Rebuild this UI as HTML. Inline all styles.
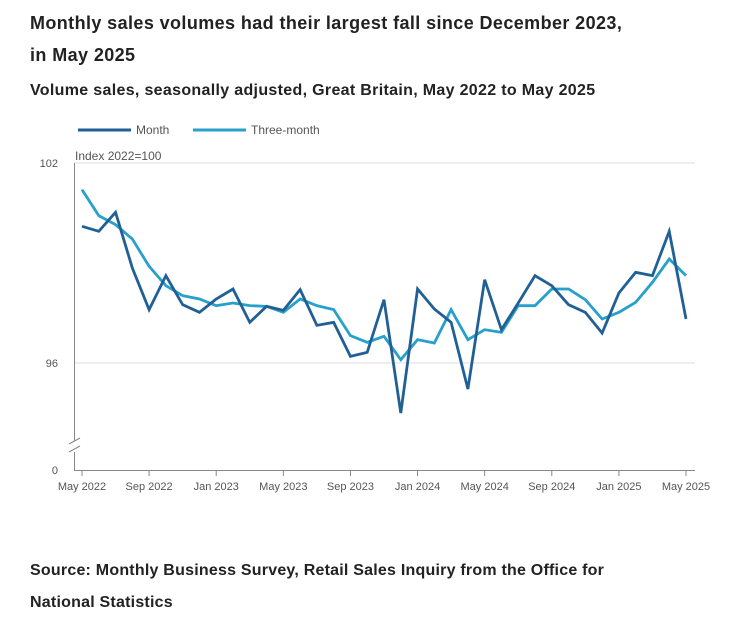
<!DOCTYPE html>
<html><head><meta charset="utf-8"><style>
body{margin:0;background:#fff;font-family:"Liberation Sans",sans-serif;width:749px;height:623px;overflow:hidden;position:relative}
.t{position:absolute;left:30px;color:#222;font-weight:bold}
</style></head><body>
<div class="t" style="top:7px;font-size:18px;line-height:32px;width:680px;letter-spacing:0.4px">Monthly sales volumes had their largest fall since December 2023,<br>in May 2025</div>
<div class="t" style="top:82px;font-size:16px;letter-spacing:0.32px">Volume sales, seasonally adjusted, Great Britain, May 2022 to May 2025</div>
<div class="t" style="top:555px;font-size:16px;line-height:32px;width:680px;letter-spacing:0.22px">Source: Monthly Business Survey, Retail Sales Inquiry from the Office for<br>National Statistics</div>
<svg id="c" width="749" height="623" style="position:absolute;left:0;top:0"></svg>
<script>
const months=["May 2022","Sep 2022","Jan 2023","May 2023","Sep 2023","Jan 2024","May 2024","Sep 2024","Jan 2025","May 2025"];
const monthVals=[100.1,99.95,100.52,98.85,97.6,98.62,97.75,97.52,97.92,98.22,97.22,97.7,97.58,98.2,97.13,97.22,96.2,96.32,97.9,94.5,98.22,97.62,97.22,95.22,98.5,97,97.8,98.62,98.32,97.75,97.52,96.9,98.1,98.72,98.62,99.95,97.32];
const threeVals=[101.2,100.42,100.15,99.72,98.9,98.32,98.02,97.92,97.72,97.8,97.72,97.7,97.52,97.92,97.72,97.6,96.82,96.62,96.8,96.1,96.7,96.6,97.6,96.7,97,96.92,97.72,97.72,98.22,98.22,97.9,97.32,97.52,97.82,98.42,99.12,98.62];
const yTicks=[96,102];
const NS="http://www.w3.org/2000/svg",s=document.getElementById('c');
const X=i=>82+i*(604/36), Y=v=>163+(102-v)*(200/6);
function el(t,a,p){const e=document.createElementNS(NS,t);for(const k in a)e.setAttribute(k,a[k]);(p||s).appendChild(e);return e;}
yTicks.forEach(v=>{
const g=el('line',{x1:74,x2:695,y1:Y(v),y2:Y(v),stroke:'#ddd'});


const t=el('text',{x:58,y:Y(v)+4,'font-size':11,fill:'#555','text-anchor':'end'});t.textContent=v;


});
const z=el('text',{x:58,y:474,'font-size':11,fill:'#555','text-anchor':'end'});z.textContent='0';


const ya=el('path',{d:'M74.5 163V441M74.5 452V470',stroke:'#888',fill:'none'});


el('path',{d:'M69 444L80 438M69 452L80 446',stroke:'#888',fill:'none'});
const xa=el('line',{x1:74,x2:695,y1:470.5,y2:470.5,stroke:'#888'});


const yt=el('text',{x:75,y:160,'font-size':12,fill:'#555'});yt.textContent='Index 2022=100';


months.forEach((m,i)=>{const x=X(i*4);
el('line',{x1:x,x2:x,y1:470,y2:476,stroke:'#888'});
const t=el('text',{x:x,y:490,'font-size':11,fill:'#555','text-anchor':'middle'});t.textContent=m;


});
function line(vals,col,name){const p=el('polyline',{points:vals.map((v,i)=>X(i)+','+Y(v)).join(' '),fill:'none',stroke:col,'stroke-width':2.8,'stroke-linejoin':'miter'});

}
line(threeVals,'#27a0cc','three-month-line');
line(monthVals,'#206095','month-line');
[['Month','#206095',78],['Three-month','#27a0cc',193]].forEach(([n,c,x])=>{
const l=el('line',{x1:x,x2:x+53,y1:130,y2:130,stroke:c,'stroke-width':3});


const t=el('text',{x:x+58,y:134,'font-size':12,fill:'#555'});t.textContent=n;


});
</script>
</body></html>
